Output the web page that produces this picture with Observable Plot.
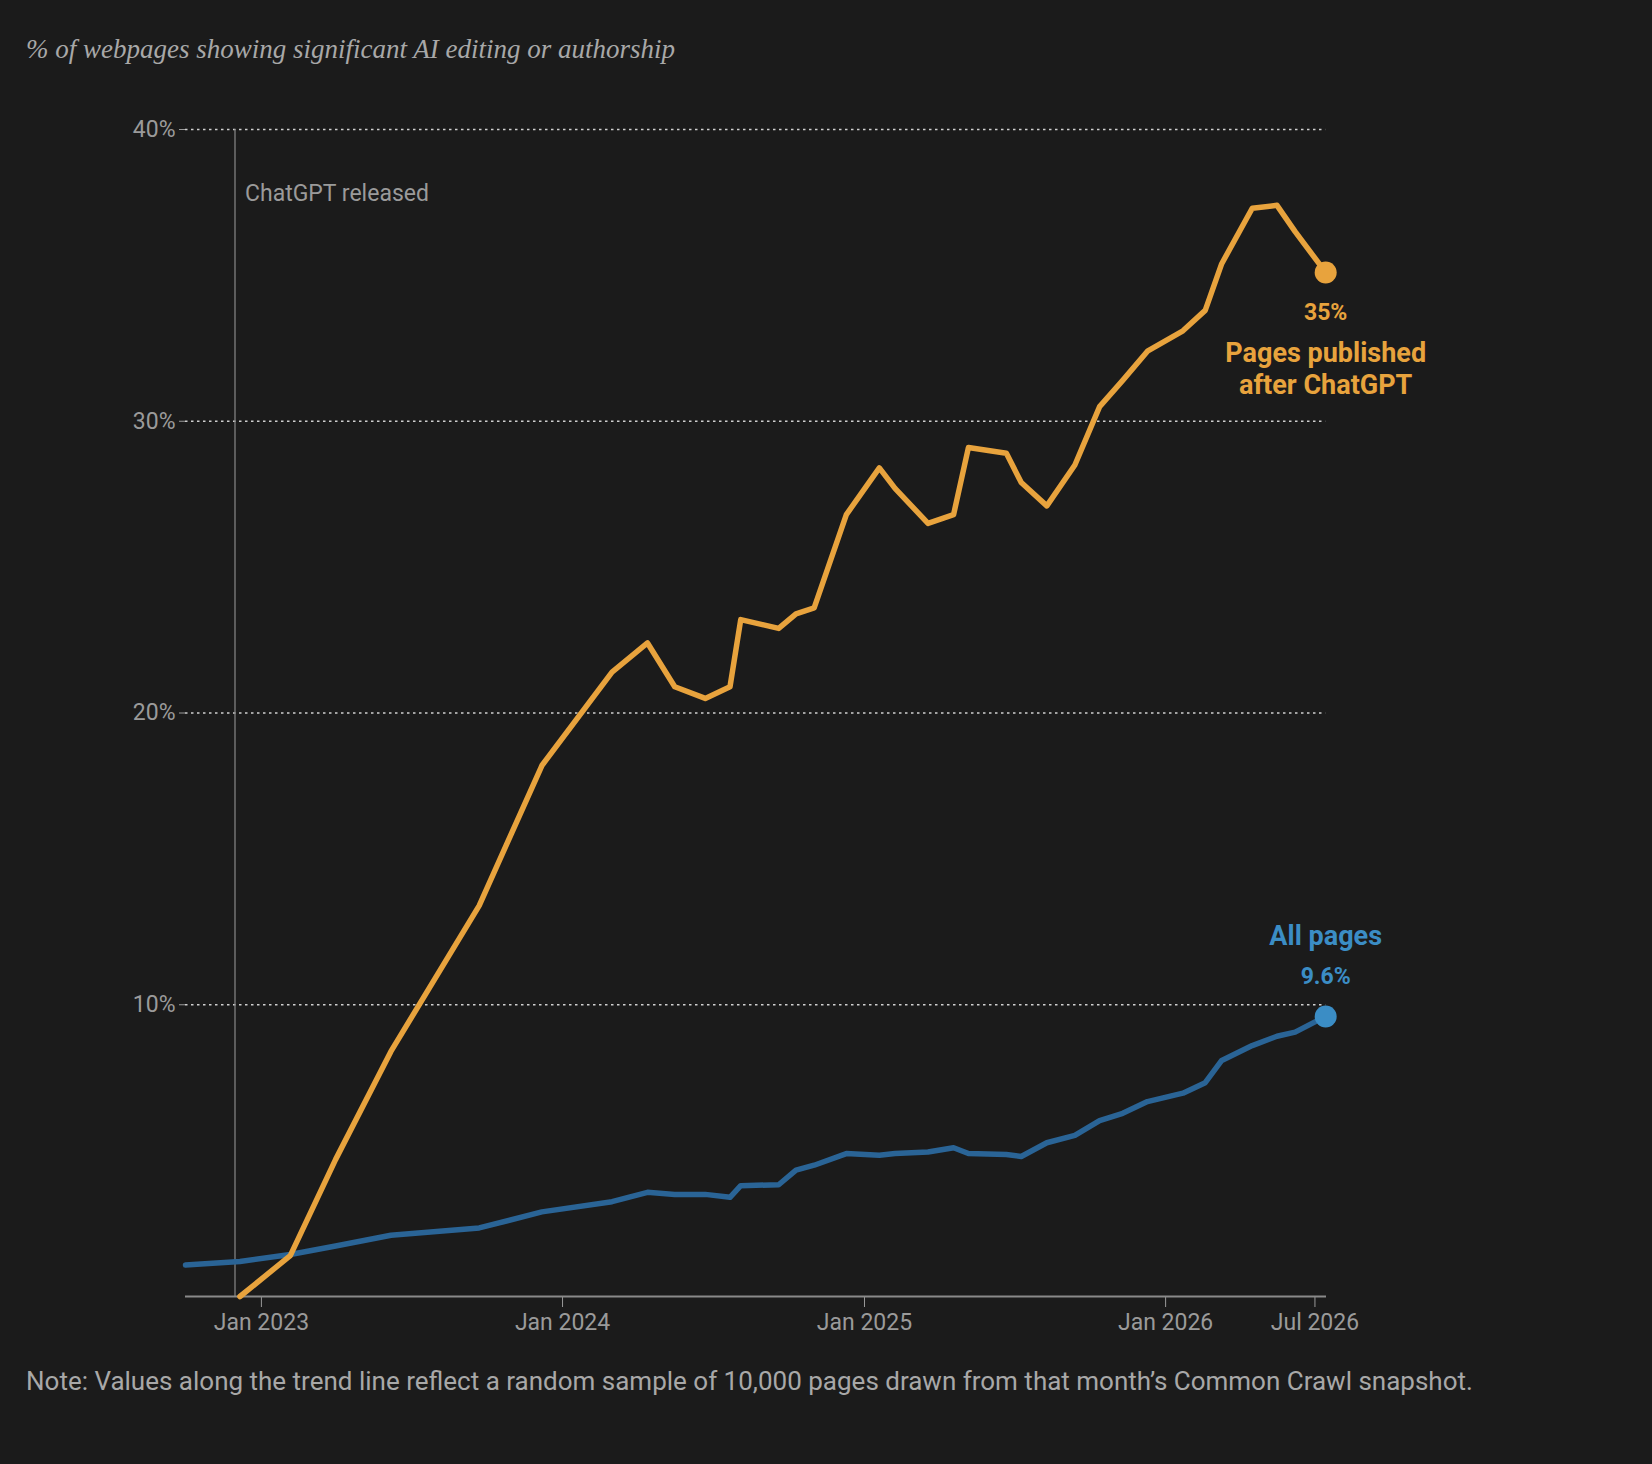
<!DOCTYPE html>
<html><head><meta charset="utf-8">
<script src="https://cdn.jsdelivr.net/npm/d3@7"></script>
<script src="https://cdn.jsdelivr.net/npm/@observablehq/plot@0.6"></script>
<style>
html,body{margin:0;background:#1b1b1b;width:1652px;height:1464px;overflow:hidden;}
#sub{position:absolute;left:26px;top:34px;font-family:"Liberation Serif","DejaVu Serif",serif;font-style:italic;font-size:27px;color:#a8a8a8;}
#chart{position:absolute;left:0;top:90px;}
#note{position:absolute;left:26px;top:1366px;font-family:"Liberation Sans Narrow",Roboto,sans-serif;font-size:26px;color:#a8a8a8;}
</style></head><body>
<div id="sub">% of webpages showing significant AI editing or authorship</div>
<div id="chart"></div>
<div id="note">Note: Values along the trend line reflect a random sample of 10,000 pages drawn from that month’s Common Crawl snapshot.</div>
<script>
const afterDates = ["2022-12-06","2023-02-05","2023-04-01","2023-06-07","2023-09-22","2023-12-07","2024-03-01","2024-04-13","2024-05-16","2024-06-22","2024-07-22","2024-08-04","2024-09-19","2024-10-10","2024-11-01","2024-12-10","2025-01-19","2025-02-07","2025-03-19","2025-04-19","2025-05-07","2025-06-22","2025-07-10","2025-08-10","2025-09-13","2025-10-13","2025-11-10","2025-12-10","2026-01-22","2026-02-18","2026-03-10","2026-04-16","2026-05-16","2026-06-07","2026-07-14"];
const afterValues = [0,1.4,4.7,8.4,13.4,18.2,21.4,22.4,20.9,20.5,20.9,23.2,22.9,23.4,23.6,26.8,28.4,27.7,26.5,26.8,29.1,28.9,27.9,27.1,28.5,30.5,31.4,32.4,33.1,33.8,35.4,37.3,37.4,36.5,35.1];
const allDates = ["2022-10-01"].concat(afterDates);
const allValues = [1.08,1.2,1.44,1.73,2.1,2.35,2.9,3.25,3.57,3.5,3.5,3.4,3.8,3.83,4.33,4.5,4.9,4.84,4.9,4.95,5.1,4.9,4.87,4.8,5.27,5.52,6.03,6.28,6.68,6.97,7.33,8.09,8.6,8.92,9.06,9.6];
const yTicks = [10,20,30,40];
const xTicks = ["2023-01-01","2024-01-01","2025-01-01","2026-01-01","2026-07-01"];
const xTickLabels = ["Jan 2023","Jan 2024","Jan 2025","Jan 2026","Jul 2026"];
const releaseDate = "2022-11-30";

const P = s => new Date(s + "T00:00:00");
const after = afterDates.map((d,i)=>({date:P(d), v:afterValues[i]}));
const all = allDates.map((d,i)=>({date:P(d), v:allValues[i]}));
const lastA = after[after.length-1], lastB = all[all.length-1];
const x0 = P("2022-10-01"), x1 = P("2026-07-15");
const yellow = "#e8a33d", blueLine = "#2a6496", blue = "#3b8dc5";
const font = "'Liberation Sans Narrow', Roboto, sans-serif";

const chart = Plot.plot({
  width:1652, height:1266, marginLeft:185, marginRight:326, marginTop:39, marginBottom:60,
  style:{background:"transparent", color:"#9a9a9a", fontFamily:font, fontSize:"23px"},
  x:{type:"time", domain:[x0,x1], ticks:xTicks.map(P), tickFormat:(d)=>xTickLabels[xTicks.map(s=>+P(s)).indexOf(+d)], tickSize:11, tickPadding:6, label:null},
  y:{domain:[0,40], ticks:yTicks, tickFormat:d=>d+"%", tickSize:6, tickPadding:4, label:null},
  marks:[
    Plot.ruleY(yTicks,{x1:x0,x2:lastA.date,stroke:"#cfcfcf",strokeDasharray:"2.5,3.5",strokeWidth:1.3}),
    Plot.ruleX([P(releaseDate)],{y1:0,y2:40,stroke:"#8a8a8a",strokeWidth:1.2}),
    Plot.text([{d:P(releaseDate)}],{x:"d",y:37.8,text:()=>"ChatGPT released",dx:10,textAnchor:"start",fill:"#9a9a9a",fontSize:23}),
    Plot.ruleY([0],{x1:x0,x2:x1,stroke:"#8a8a8a",strokeWidth:2}),
    Plot.line(all,{x:"date",y:"v",stroke:blueLine,strokeWidth:5.5,curve:"linear"}),
    Plot.line(after,{x:"date",y:"v",stroke:yellow,strokeWidth:5.5,curve:"linear"}),
    Plot.dot([lastA],{x:"date",y:"v",r:11,fill:yellow}),
    Plot.dot([lastB],{x:"date",y:"v",r:11,fill:blue}),
    Plot.text([lastA],{x:"date",y:"v",text:d=>Math.round(d.v)+"%",dy:40,fill:yellow,fontWeight:"bold",fontSize:23}),
    Plot.text([lastA],{x:"date",y:"v",text:()=>"Pages published",dy:81,fill:yellow,fontWeight:"bold",fontSize:27}),
    Plot.text([lastA],{x:"date",y:"v",text:()=>"after ChatGPT",dy:113,fill:yellow,fontWeight:"bold",fontSize:27}),
    Plot.text([lastB],{x:"date",y:"v",text:()=>"All pages",dy:-80,fill:blue,fontWeight:"bold",fontSize:27}),
    Plot.text([lastB],{x:"date",y:"v",text:d=>d.v+"%",dy:-40,fill:blue,fontWeight:"bold",fontSize:23})
  ]
});
document.getElementById("chart").appendChild(chart);
</script></body></html>
